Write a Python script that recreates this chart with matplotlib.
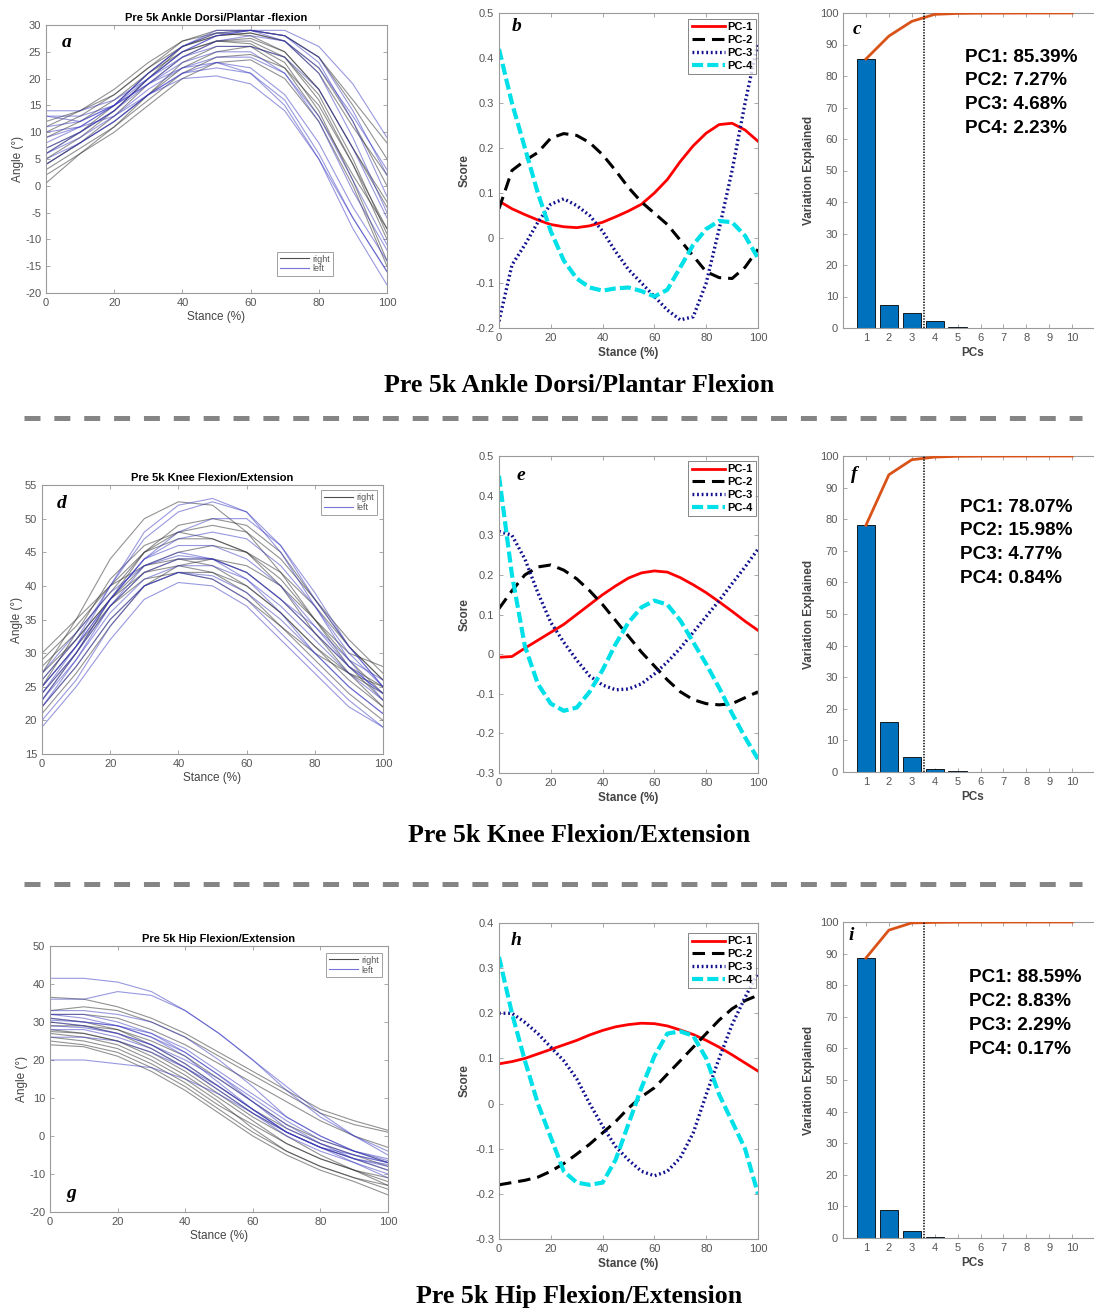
"""
Pre 5k gait PCA figure: joint angle curves, PC loadings and variance explained
for ankle, knee and hip (3 rows x 3 panels).
"""
import numpy as np
import matplotlib
matplotlib.use("Agg")
import matplotlib.pyplot as plt
from matplotlib.lines import Line2D
from matplotlib.ticker import FuncFormatter

plt.rcParams["font.family"] = ["Liberation Sans", "DejaVu Sans"]
plt.rcParams["lines.scale_dashes"] = False
plt.rcParams["axes.unicode_minus"] = False

W, H = 1094, 1312

# ---- data ----
STANCE_10 = [0, 10, 20, 30, 40, 50, 60, 70, 80, 90, 100]
STANCE_5 = list(range(0, 101, 5))
PCS = [1, 2, 3, 4, 5, 6, 7, 8, 9, 10]

ANKLE_RIGHT = [
    [0.5, 6, 11, 17, 23, 26, 26, 22, 13, 2, -8],
    [4, 8, 13, 19, 24, 27, 27.5, 25, 18, 7, -4],
    [6, 10, 15, 21, 26, 28, 28.5, 27, 21, 11, 2],
    [10, 13, 17, 22, 27, 29, 29, 28, 24, 16, 8],
    [11, 14, 18, 23, 27, 28.5, 28, 25, 18, 7, -3],
    [4, 8, 12, 17, 22, 25, 26, 24, 17, 5, -9],
    [7, 10, 14, 20, 25, 27, 27, 24, 16, 4, -10],
    [9, 12, 16, 21, 25, 27, 26.5, 23, 14, 1, -14],
    [3, 7, 11, 16, 21, 24, 24.5, 22, 15, 4, -8],
    [12, 14, 17, 22, 26, 28, 28.5, 27, 22, 12, 0],
    [5, 9, 14, 20, 26, 28.5, 29, 28, 24, 15, 5],
    [2, 6, 10, 15, 20, 23, 23.5, 20, 12, 0, -15],
]
ANKLE_LEFT = [
    [14, 14, 16, 20, 25, 28, 29, 29, 26, 19, 9],
    [13, 13, 15, 19, 24, 27, 28, 27, 22, 13, 3],
    [6, 10, 14, 20, 25, 28, 29, 28, 24, 14, 2],
    [5, 8, 12, 17, 21, 22, 21, 16, 6, -6, -16],
    [11, 12, 15, 19, 22, 23, 21, 15, 5, -8, -18.5],
    [7, 10, 14, 19, 23, 25, 25, 21, 12, -1, -12],
    [9, 11, 15, 21, 26, 28.5, 29, 27, 21, 9, -5],
    [4, 8, 12, 17, 21, 23, 22, 17, 8, -4, -14],
    [13, 12, 15, 20, 24, 26, 26, 24, 18, 7, -6],
    [6, 9, 13, 18, 22, 24, 24, 21, 13, 1, -11],
    [10, 11, 13, 17, 20, 20.5, 19, 14, 5, -6, -16],
    [8, 11, 15, 21, 26, 29, 29, 28, 23, 12, -2],
]

KNEE_RIGHT = [
    [27, 35, 44, 50, 52.5, 52, 48, 42, 35, 28, 23],
    [25, 33, 41, 46, 48, 47, 45, 40, 33, 27, 22],
    [30, 35, 40, 43, 44, 43, 40, 36, 31, 27, 24],
    [22, 28, 35, 40, 42, 42, 40, 36, 31, 26, 22],
    [26, 32, 38, 42, 44, 44, 42, 38, 33, 28, 25],
    [28, 33, 39, 45, 48, 49, 48, 44, 38, 32, 27],
    [24, 30, 37, 42, 43, 42, 39, 34, 29, 24, 20],
    [23, 30, 38, 45, 49, 50, 49, 45, 38, 31, 26],
    [29, 34, 40, 45, 47, 47, 45, 41, 35, 30, 28],
    [21, 27, 34, 40, 43, 44, 43, 40, 35, 29, 24],
    [25, 31, 37, 41, 42, 41, 38, 34, 30, 27, 25],
    [27, 32, 38, 43, 45, 46, 45, 42, 37, 31, 26],
]
KNEE_LEFT = [
    [24, 31, 40, 48, 52, 53, 51, 45, 37, 29, 23],
    [19, 25, 32, 38, 40.5, 40, 37, 32, 27, 22, 19],
    [22, 29, 37, 43, 45, 44, 41, 36, 30, 25, 21],
    [25, 31, 38, 44, 48, 50, 50, 46, 39, 31, 25],
    [23, 29, 36, 41, 43, 43, 41, 37, 32, 27, 23],
    [26, 32, 40, 47, 51, 52.5, 51, 46, 38, 31, 25],
    [22, 28, 35, 40, 42, 41.5, 39, 35, 30, 25, 21],
    [24, 30, 37, 42, 44, 44, 42, 38, 34, 29, 26],
    [20, 26, 34, 40, 42, 41, 38, 33, 28, 23, 19],
    [25, 31, 38, 44, 46, 46, 44, 40, 34, 28, 24],
    [23, 30, 38, 44, 47, 48, 47, 43, 37, 30, 25],
    [27, 33, 39, 43, 44.5, 44, 42, 38, 33, 28, 24],
]

HIP_RIGHT = [
    [36.5, 36, 34, 31, 27, 22, 17, 12, 7, 4, 1.5],
    [33, 34, 33, 30, 26, 21, 16, 11, 6, 3, 1],
    [28, 27, 25, 21, 16, 10, 4, -2, -6, -9, -11],
    [27, 26, 24, 20, 15, 9, 2, -4, -8, -11, -14],
    [25, 24, 22, 18, 13, 7, 1, -4, -8, -11, -13],
    [24, 23.5, 21, 17, 12, 6, 0, -5, -9, -12, -15.5],
    [30, 29, 27, 23, 18, 12, 6, 1, -3, -6, -9],
    [32, 32, 31, 28, 24, 19, 14, 9, 4, 0, -3],
    [26, 25, 23, 19, 14, 8, 3, -2, -6, -9, -12],
    [29, 29, 28, 25, 21, 15, 9, 3, -1, -4, -7],
    [31, 30, 28, 24, 19, 13, 7, 2, -2, -5, -8],
    [27.5, 27, 25, 22, 17, 11, 5, 0, -5, -9, -13],
]
HIP_LEFT = [
    [41.5, 41.5, 40.5, 38, 33, 27, 20, 13, 6, 0, -5],
    [36, 36, 38, 37, 33, 27, 20, 12, 5, 0, -4],
    [20, 20, 19, 18, 15, 11, 6, 1, -3, -5, -7],
    [30, 29, 27, 24, 20, 15, 9, 3, -2, -5, -7],
    [32, 31, 29, 26, 22, 16, 10, 4, -1, -4, -6],
    [29, 28.5, 27, 24, 19, 13, 7, 1, -3, -6, -8],
    [31, 30, 29, 27, 23, 17, 11, 5, 0, -4, -6.5],
    [33, 33, 32, 30, 26, 20, 13, 5, 0, -4, -7],
    [28, 28, 26, 23, 18, 12, 6, 0, -4, -7, -10],
    [30.5, 30, 29, 26, 21, 14, 7, 1, -3, -6, -7.5],
    [32, 32, 30, 27, 22, 16, 9, 2, -2, -6, -9],
    [26, 26, 25, 22, 18, 13, 7, 1, -3, -7, -11],
]

# PC loading curves, every 5% of stance
ANKLE_PC1 = [0.082, 0.065, 0.052, 0.04, 0.03, 0.025, 0.023, 0.027, 0.035, 0.047, 0.06,
             0.075, 0.10, 0.13, 0.17, 0.205, 0.233, 0.252, 0.255, 0.24, 0.215]
ANKLE_PC2 = [0.065, 0.15, 0.172, 0.19, 0.222, 0.232, 0.228, 0.212, 0.185, 0.15, 0.112,
             0.08, 0.055, 0.03, -0.005, -0.04, -0.075, -0.088, -0.09, -0.065, -0.025]
ANKLE_PC3 = [-0.185, -0.06, -0.015, 0.035, 0.075, 0.087, 0.072, 0.05, 0.015, -0.03, -0.07,
             -0.1, -0.13, -0.16, -0.182, -0.175, -0.1, 0.02, 0.15, 0.3, 0.435]
ANKLE_PC4 = [0.42, 0.3, 0.2, 0.1, 0.015, -0.05, -0.09, -0.11, -0.117, -0.112, -0.11,
             -0.118, -0.13, -0.115, -0.065, -0.015, 0.02, 0.038, 0.035, 0.005, -0.045]

KNEE_PC1 = [-0.008, -0.006, 0.015, 0.035, 0.055, 0.075, 0.1, 0.125, 0.15, 0.172, 0.192,
            0.205, 0.21, 0.207, 0.193, 0.175, 0.155, 0.132, 0.108, 0.083, 0.06]
KNEE_PC2 = [0.115, 0.16, 0.2, 0.22, 0.225, 0.212, 0.19, 0.16, 0.125, 0.085, 0.045,
            0.005, -0.03, -0.065, -0.095, -0.115, -0.125, -0.128, -0.125, -0.11, -0.095]
KNEE_PC3 = [0.31, 0.3, 0.24, 0.155, 0.08, 0.03, -0.015, -0.055, -0.078, -0.09, -0.088,
            -0.075, -0.05, -0.02, 0.015, 0.055, 0.095, 0.135, 0.178, 0.22, 0.265]
KNEE_PC4 = [0.45, 0.2, 0.02, -0.075, -0.125, -0.143, -0.135, -0.095, -0.04, 0.025, 0.08,
            0.118, 0.135, 0.125, 0.085, 0.03, -0.025, -0.085, -0.15, -0.21, -0.265]

HIP_PC1 = [0.088, 0.093, 0.1, 0.11, 0.12, 0.13, 0.14, 0.152, 0.162, 0.17, 0.175,
           0.178, 0.177, 0.172, 0.163, 0.153, 0.14, 0.125, 0.108, 0.09, 0.072]
HIP_PC2 = [-0.18, -0.175, -0.17, -0.163, -0.15, -0.133, -0.112, -0.09, -0.065, -0.04, -0.01,
           0.015, 0.035, 0.065, 0.095, 0.125, 0.155, 0.185, 0.21, 0.228, 0.24]
HIP_PC3 = [0.2, 0.2, 0.18, 0.155, 0.125, 0.095, 0.055, 0.0, -0.05, -0.095, -0.125,
           -0.15, -0.16, -0.15, -0.12, -0.065, 0.02, 0.1, 0.175, 0.235, 0.29]
HIP_PC4 = [0.325, 0.2, 0.095, 0.0, -0.075, -0.15, -0.175, -0.18, -0.175, -0.125, -0.045,
           0.035, 0.105, 0.155, 0.16, 0.15, 0.1, 0.02, -0.04, -0.1, -0.2]

ANKLE_VAR = [85.39, 7.27, 4.68, 2.23, 0.30, 0.07, 0.03, 0.02, 0.01, 0.01]
KNEE_VAR = [78.07, 15.98, 4.77, 0.84, 0.25, 0.05, 0.02, 0.01, 0.01, 0.0]
HIP_VAR = [88.59, 8.83, 2.29, 0.17, 0.07, 0.03, 0.01, 0.01, 0.0, 0.0]

ANKLE_TXT = ["PC1: 85.39%", "PC2: 7.27%", "PC3: 4.68%", "PC4: 2.23%"]
KNEE_TXT = ["PC1: 78.07%", "PC2: 15.98%", "PC3: 4.77%", "PC4: 0.84%"]
HIP_TXT = ["PC1: 88.59%", "PC2: 8.83%", "PC3: 2.29%", "PC4: 0.17%"]

SECTION_TITLES = ["Pre 5k Ankle Dorsi/Plantar Flexion",
                  "Pre 5k Knee Flexion/Extension",
                  "Pre 5k Hip Flexion/Extension"]

TICK_C = "#555555"
SPINE_C = "#9a9a9a"
RIGHT_C = (0.15, 0.15, 0.15, 0.5)
LEFT_C = (0.2, 0.2, 0.75, 0.5)


def px_axes(fig, left, top, right, bottom):
    return fig.add_axes([left / W, 1 - bottom / H, (right - left) / W, (bottom - top) / H])


def style(ax):
    for s in ax.spines.values():
        s.set_color(SPINE_C)
        s.set_linewidth(0.8)
    ax.tick_params(direction="in", length=3, width=0.6, colors=SPINE_C,
                   labelcolor=TICK_C, labelsize=8, top=True, right=True)


def letter(ax, ch, x, y):
    ax.text(x, y, ch, transform=ax.transAxes, fontsize=14, style="italic",
            weight="bold", family="Liberation Serif", va="center", ha="left")


def angle_panel(ax, right, left, title, ylim, ystep, leg_loc, leg_anchor):
    for c in right:
        ax.plot(STANCE_10, c, color=RIGHT_C, lw=0.8)
    for c in left:
        ax.plot(STANCE_10, c, color=LEFT_C, lw=0.8)
    ax.set_xlim(0, 100)
    ax.set_ylim(*ylim)
    ax.set_xticks(range(0, 101, 20))
    ax.set_yticks(range(ylim[0], ylim[1] + 1, ystep))
    ax.set_title(title, fontsize=8, weight="bold", pad=3)
    ax.set_xlabel("Stance (%)", fontsize=8.5, color="#444444", labelpad=2)
    ax.set_ylabel("Angle (°)", fontsize=8.5, color="#444444", labelpad=1)
    style(ax)
    handles = [Line2D([], [], color=(0.3, 0.3, 0.3), lw=0.8),
               Line2D([], [], color=(0.45, 0.45, 0.85), lw=0.8)]
    leg = ax.legend(handles, ["right", "left"], loc=leg_loc, bbox_to_anchor=leg_anchor,
                    fontsize=6.5, fancybox=False, borderaxespad=0, handlelength=3.2,
                    borderpad=0.3, labelspacing=0.1, handletextpad=0.4)
    leg.get_frame().set_edgecolor("#888888")
    leg.get_frame().set_linewidth(0.7)
    for t in leg.get_texts():
        t.set_color("#555555")


def pc_panel(ax, pcs, ylim, leg_anchor):
    p1, p2, p3, p4 = pcs
    ax.plot(STANCE_5, p1, color="#ff0000", lw=2.0, label="PC-1")
    ax.plot(STANCE_5, p2, color="black", lw=2.2, dashes=(9, 5), label="PC-2")
    ax.plot(STANCE_5, p3, color="#10108f", lw=2.4, dashes=(1.3, 2.0), label="PC-3")
    ax.plot(STANCE_5, p4, color="#00e0e8", lw=3.0, dashes=(8, 3), label="PC-4")
    ax.set_xlim(0, 100)
    ax.set_ylim(*ylim)
    ax.set_xticks(range(0, 101, 20))
    ax.set_yticks(np.arange(ylim[0], ylim[1] + 0.001, 0.1))
    ax.yaxis.set_major_formatter(FuncFormatter(lambda v, p: f"{round(v, 2):g}"))
    ax.set_xlabel("Stance (%)", fontsize=8.5, weight="bold", color="#444444", labelpad=3)
    ax.set_ylabel("Score", fontsize=8.5, weight="bold", color="#444444", labelpad=3)
    style(ax)
    leg = ax.legend(loc="upper right", bbox_to_anchor=leg_anchor, borderaxespad=0,
                    fancybox=False, handlelength=3.0, borderpad=0.3,
                    labelspacing=0.25, handletextpad=0.2, prop={"weight": "bold", "size": 8})
    leg.get_frame().set_edgecolor("#666666")
    leg.get_frame().set_linewidth(0.7)


def var_panel(fig, ax, var, texts, text_x, text_y):
    ax.bar(PCS, var, width=0.8, color="#0072BD", edgecolor="black", lw=0.6, zorder=2)
    ax.plot(PCS, np.cumsum(var), color="#D95319", lw=2.0, zorder=3)
    ax.plot([3.55, 3.55], [0, 100], color="black", lw=1.1, ls=(0, (1, 1)), zorder=4)
    ax.set_xlim(0, 11.3)
    ax.set_ylim(0, 100)
    ax.set_xticks(PCS)
    ax.set_yticks(range(0, 101, 10))
    ax.set_xlabel("PCs", fontsize=8.5, weight="bold", color="#444444", labelpad=3)
    ax.set_ylabel("Variation Explained", fontsize=8.5, weight="bold", color="#444444",
                  labelpad=3)
    style(ax)
    for i, t in enumerate(texts):
        fig.text(text_x / W, 1 - (text_y + i * 23.7) / H, t, fontsize=13.6,
                 weight="bold", va="center", ha="left")


def main():
    fig = plt.figure(figsize=(W / 100, H / 100), dpi=100)

    # ---- row 1: ankle ----
    ax = px_axes(fig, 46, 25, 387, 293)
    angle_panel(ax, ANKLE_RIGHT, ANKLE_LEFT, "Pre 5k Ankle Dorsi/Plantar -flexion",
                (-20, 30), 5, "lower right", (0.842, 0.063))
    letter(ax, "a", 0.047, 0.933)
    ax = px_axes(fig, 499, 13, 758, 328)
    pc_panel(ax, (ANKLE_PC1, ANKLE_PC2, ANKLE_PC3, ANKLE_PC4), (-0.2, 0.5), (0.992, 0.981))
    letter(ax, "b", 0.05, 0.956)
    ax = px_axes(fig, 843, 13, 1102, 328)
    var_panel(fig, ax, ANKLE_VAR, ANKLE_TXT, 965, 57)
    letter(ax, "c", 0.039, 0.949)

    # ---- row 2: knee ----
    ax = px_axes(fig, 42, 485, 383, 754)
    angle_panel(ax, KNEE_RIGHT, KNEE_LEFT, "Pre 5k Knee Flexion/Extension",
                (15, 55), 5, "upper right", (0.982, 0.98))
    letter(ax, "d", 0.044, 0.933)
    ax = px_axes(fig, 499, 456, 758, 773)
    pc_panel(ax, (KNEE_PC1, KNEE_PC2, KNEE_PC3, KNEE_PC4), (-0.3, 0.5), (0.992, 0.984))
    letter(ax, "e", 0.066, 0.94)
    ax = px_axes(fig, 843, 456, 1102, 772)
    var_panel(fig, ax, KNEE_VAR, KNEE_TXT, 960, 507)
    letter(ax, "f", 0.031, 0.94)

    # ---- row 3: hip ----
    ax = px_axes(fig, 50, 946, 388, 1212)
    angle_panel(ax, HIP_RIGHT, HIP_LEFT, "Pre 5k Hip Flexion/Extension",
                (-20, 50), 10, "upper right", (0.982, 0.974))
    letter(ax, "g", 0.047, 0.071)
    ax = px_axes(fig, 499, 923, 758, 1239)
    pc_panel(ax, (HIP_PC1, HIP_PC2, HIP_PC3, HIP_PC4), (-0.3, 0.4), (0.992, 0.968))
    letter(ax, "h", 0.046, 0.946)
    ax = px_axes(fig, 843, 922, 1102, 1238)
    var_panel(fig, ax, HIP_VAR, HIP_TXT, 969, 978)
    letter(ax, "i", 0.023, 0.956)

    # ---- section titles + dashed separators ----
    for title, y in zip(SECTION_TITLES, [385, 836, 1297]):
        fig.text(579 / W, 1 - y / H, title, fontsize=18.6, weight="bold",
                 family="Liberation Serif", ha="center", va="center")
    for y in [418, 884]:
        fig.add_artist(Line2D([24 / W, 1082 / W], [1 - y / H, 1 - y / H],
                              color="#858585", lw=3.6, dashes=(11.5, 10)))

    fig.savefig("out.png", dpi=100)
    plt.close(fig)


if __name__ == "__main__":
    main()
